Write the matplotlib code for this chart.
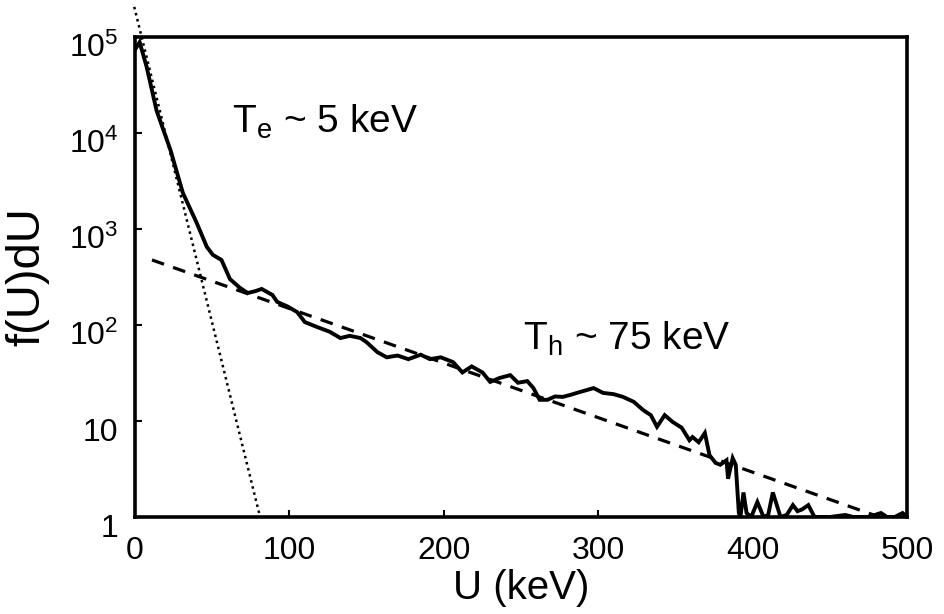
import matplotlib.pyplot as plt
import matplotlib.transforms as mtransforms
import numpy as np

plt.rcParams['font.family'] = ['Liberation Sans', 'DejaVu Sans']
plt.rcParams['mathtext.fontset'] = 'custom'
plt.rcParams['mathtext.rm'] = 'Liberation Sans'
plt.rcParams['mathtext.it'] = 'Liberation Sans'
plt.rcParams['mathtext.default'] = 'regular'

U = [0.3, 3, 7.5, 14, 23, 31, 40, 46.5, 50.5, 56, 61.5, 68, 73, 78, 82, 89, 92, 99, 105,
     110, 118, 126, 133, 139, 146, 150, 157, 163, 170, 177, 185, 191, 198, 206, 212, 218,
     225, 230, 236, 243, 248, 254, 258, 262, 267, 272, 277, 282, 288, 297, 303, 310, 316,
     323, 329, 334, 338, 343, 348, 354, 359, 361, 365, 369, 372, 376, 379, 383, 384, 387,
     389, 391, 392, 394, 396, 399, 403, 407, 410, 413, 418, 422, 426, 429, 432, 436, 440,
     450, 460, 465, 475, 483, 487, 492, 497, 500]
fU = [75000, 88000, 49000, 17000, 6600, 2370, 1150, 650, 535, 475, 300, 243, 215, 225, 237,
      205, 174, 155, 136, 107, 95, 85, 73, 77, 73, 66, 52, 46, 48, 44, 49, 44, 46, 41, 32,
      37, 32, 25.5, 28, 30, 25, 26, 22, 16.6, 16.6, 18, 17.8, 18.7, 20, 22, 19.6, 19, 17.8,
      15.8, 13, 11.5, 8.7, 11.5, 9.8, 8.5, 6.3, 6.8, 6.0, 7.5, 4.4, 3.65, 3.5, 3.9, 2.5, 4.1,
      3.5, 1.1, 1.0, 1.8, 1.1, 1.0, 1.43, 1.0, 1.05, 1.8, 1.0, 1.05, 1.33, 1.15, 1.2, 1.33,
      1.0, 1.0, 1.05, 1.0, 1.0, 1.1, 1.0, 1.0, 1.1, 1.0]

# fitted exponentials (end points)
hot_U = [11, 482]
hot_f = [475, 1]
cold_U = [-0.5, 81]
cold_f = [205000, 1]

fig = plt.figure(figsize=(9.44, 6.14), dpi=100)
ax = fig.add_axes([0.143, 0.158, 0.818, 0.782])

ax.plot(U, fU, color='black', lw=2.8, solid_joinstyle='miter')
ax.plot(hot_U, hot_f, color='black', lw=2.3, ls=(0, (4, 3)))
ax.plot(cold_U, cold_f, color='black', lw=1.8, ls=(0, (1, 1.5)), clip_on=False)

ax.set_yscale('log')
ax.set_xlim(0, 500)
ax.set_ylim(1, 1e5)
ax.set_xticks([0, 100, 200, 300, 400, 500])
ax.set_yticks([1, 10, 100, 1000, 1e4, 1e5])
ax.set_yticklabels(['1', '10', '$10^2$', '$10^3$', '$10^4$', '$10^5$'])
ax.minorticks_off()
ax.tick_params(direction='in', length=5, width=1.5, labelsize=23)
ax.tick_params(axis='x', pad=14)
ax.tick_params(axis='y', pad=12)
for s in ax.spines.values():
    s.set_linewidth(2.6)

# the scanned y labels sit a little below their ticks
shift = mtransforms.ScaledTranslation(0, -6 / 72, fig.dpi_scale_trans)
for lab in ax.get_yticklabels():
    lab.set_transform(lab.get_transform() + shift)

ax.set_xlabel('U (keV)', fontsize=29, labelpad=2)
ax.set_ylabel('f(U)dU', fontsize=34, labelpad=14)

ax.text(0.126, 0.80, '$T_e$ ~ 5 keV', transform=ax.transAxes, fontsize=28, ha='left', va='baseline')
ax.text(0.503, 0.348, '$T_h$ ~ 75 keV', transform=ax.transAxes, fontsize=28, ha='left', va='baseline')

fig.savefig('out.png', dpi=100)
